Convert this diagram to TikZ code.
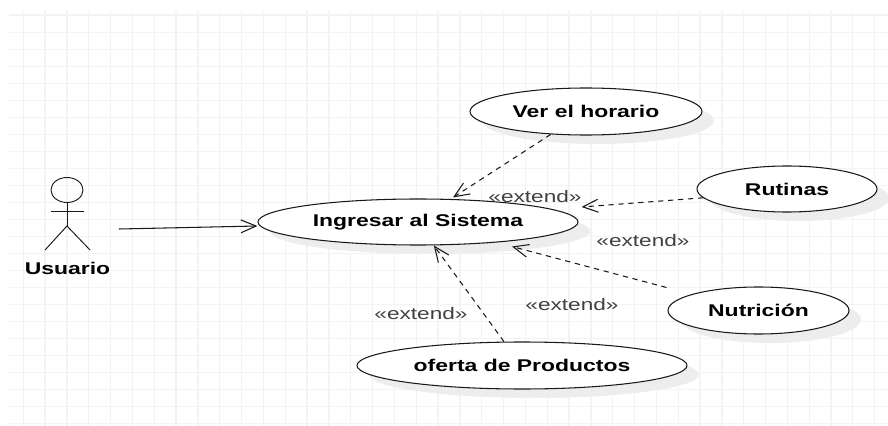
\documentclass[tikz,border=0pt]{standalone}
\usepackage{fontspec}
\setmainfont{Liberation Sans}[FakeStretch=1.35]
\usetikzlibrary{shapes.geometric,shadows,arrows.meta}
\definecolor{gridgray}{HTML}{F3F3F3}
\tikzset{
  usecase/.style={ellipse,draw=black!90,line width=0.9pt,fill=white,inner sep=0pt,font=\fontsize{14.5}{16}\selectfont\bfseries,
    drop shadow={shadow xshift=0.36cm,shadow yshift=-0.27cm,fill=black!7,opacity=1}},
  extendlabel/.style={font=\fontsize{14.3}{16}\selectfont,text=black!75},
  stickman/.style={line width=0.8pt,black!90},
  assoc/.style={-{Straight Barb[length=13pt,width=11pt]},line width=0.9pt,black!90},
  depend/.style={assoc,dash pattern=on 4.5pt off 4pt}
}
\begin{document}
\begin{tikzpicture}[x=0.03cm,y=-0.03cm]
    \useasboundingbox (0,0) rectangle (888,426);
    \foreach \gx in {23.3,45.13,...,880} \draw[gridgray,line width=1.1pt] (\gx,11) -- (\gx,426);
    \foreach \gy in {15,32.04,...,426} \draw[gridgray,line width=0.9pt] (9,\gy) -- (888,\gy);

    \node[usecase,minimum width=9.6cm,minimum height=1.38cm] (sistema) at (418,222) {Ingresar al Sistema};
    \node[usecase,minimum width=6.96cm,minimum height=1.41cm] (horario) at (586,111.5) {Ver el horario};
    \node[usecase,minimum width=5.4cm,minimum height=1.38cm] (rutinas) at (787,189) {Rutinas};
    \node[usecase,minimum width=5.43cm,minimum height=1.41cm] (nutricion) at (758.5,310.5) {Nutrición};
    \node[usecase,minimum width=9.9cm,minimum height=1.41cm] (oferta) at (522,365.5) {oferta de Productos};

    \draw[stickman] (67,190) ellipse (16 and 12.5);
    \draw[stickman] (67,202.5) -- (67,226);
    \draw[stickman] (51,211) -- (84,211);
    \draw[stickman] (45,250) -- (67,226) -- (90,250);
    \node[font=\fontsize{14.5}{16}\selectfont\bfseries] (usuario) at (67.5,268) {Usuario};
    \coordinate (usuariomano) at (119,229);

    \draw[assoc] (usuariomano) -- ([shift={(0,4)}]sistema.west);
    \draw[depend] (horario.213) -- ([shift={(35,-1)}]sistema.north);
    \draw[depend] (rutinas.186) -- ([shift={(3,-15)}]sistema.east);
    \draw[depend] ([shift={(-1,-23)}]nutricion.west) -- ([shift={(94,1)}]sistema.south);
    \draw[depend] (oferta.127) -- (sistema.304);

    \node[extendlabel] (ext1) at (535,197) {«extend»};
    \node[extendlabel] (ext2) at (643,241) {«extend»};
    \node[extendlabel] (ext3) at (572,305) {«extend»};
    \node[extendlabel] (ext4) at (421,314) {«extend»};
\end{tikzpicture}
\end{document}
